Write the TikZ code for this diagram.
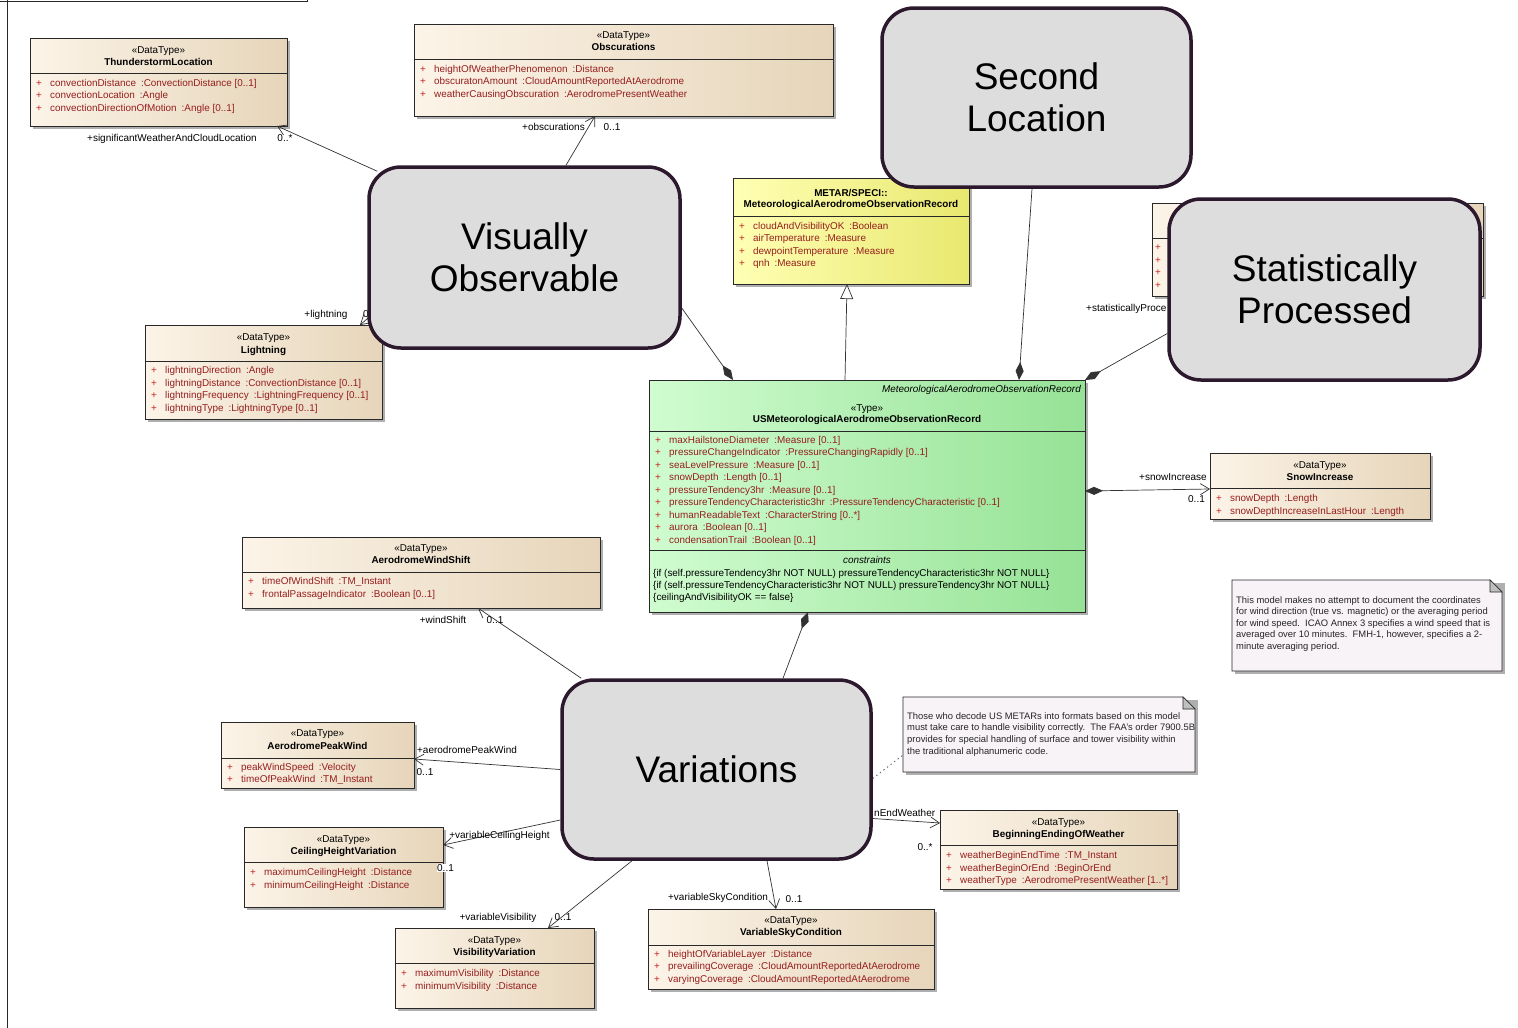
\documentclass[tikz,border=0pt]{standalone}
\usepackage{fontspec}
\setmainfont{Liberation Sans}
\usetikzlibrary{arrows.meta,calc}
\pgfdeclarelayer{fg}
\pgfsetlayers{main,fg}
\definecolor{dtL}{RGB}{252,244,232}
\definecolor{dtR}{RGB}{230,213,186}
\definecolor{grL}{RGB}{208,252,208}
\definecolor{grR}{RGB}{150,226,150}
\definecolor{yeL}{RGB}{255,255,180}
\definecolor{yeR}{RGB}{232,232,112}
\definecolor{boxline}{RGB}{40,40,40}
\definecolor{shadowc}{RGB}{175,175,175}
\definecolor{attrc}{RGB}{150,30,30}
\definecolor{plusc}{RGB}{200,35,35}
\definecolor{connc}{RGB}{50,50,50}
\definecolor{callfill}{RGB}{221,221,221}
\definecolor{calldraw}{RGB}{45,25,45}
\definecolor{notefill}{RGB}{247,243,247}
\newcommand\hdrfont{\fontsize{9.9}{11}\selectfont}
\newcommand\attrfont{\fontsize{9.9}{11}\selectfont}
\newcommand\rolefont{\fontsize{10}{11}\selectfont}
\newcommand\notefont{\fontsize{9.4}{11}\selectfont}
\newcommand\callfont{\fontsize{37}{42}\selectfont}
\newcommand\tsep{\hspace{5pt}:}
\tikzset{
  box/.style={draw=boxline, line width=0.8pt, inner sep=0pt, outer sep=0pt, rectangle},
  dtfill/.style={left color=dtL, right color=dtR},
  greenfill/.style={left color=grL, right color=grR},
  yelfill/.style={left color=yeL, right color=yeR},
  sepline/.style={draw=boxline, line width=0.8pt},
  hdr/.style={anchor=base, inner sep=0pt, font=\hdrfont},
  attr/.style={anchor=base west, inner sep=0pt, font=\attrfont, text=attrc},
  role/.style={anchor=base, inner sep=0pt, font=\rolefont, text=black},
  conn/.style={draw=connc, line width=0.7pt},
  callout/.style={rectangle, rounded corners=32pt, fill=callfill, draw=calldraw, line width=3.5pt, font=\callfont, align=center, inner sep=0pt},
  notebox/.style={inner sep=0pt, outer sep=0pt, rectangle},
  notetxt/.style={anchor=base west, inner sep=0pt, font=\notefont, text=black!85}
}
\newcommand\umlclass[7]{%
  \fill[shadowc] ({#2+3},{#3+3}) rectangle ({#4+3},{#5+3});
  \node[box,#6,minimum width={(#4-#2)*1pt},minimum height={(#5-#3)*1pt}] (#1) at ({(#2+#4)/2},{(#3+#5)/2}) {};
  \draw[sepline] (#2,#7) -- (#4,#7);
}
\newcommand\umlhead[6]{%
  \node[hdr] (#1st) at (#2,{#3+3.5}) {#5};
  \node[hdr,font=\hdrfont\bfseries] (#1nm) at (#2,{#4+3.5}) {#6};
}
\newcommand\umlattrs[5]{%
  \foreach \attrtext [count=\i from 0] in {#5}{%
    \node[attr] (#1\i) at (#2,{#3+\i*#4}) {\makebox[14pt][l]{\textcolor{plusc}{+}}\attrtext};
  }%
}
\newcommand\umlnote[5]{% name, x1, y1, x2, y2
  \fill[shadowc] ({#2+3},{#3+3}) rectangle ({#4+3},{#5+3});
  \node[notebox,minimum width={(#4-#2)*1pt},minimum height={(#5-#3)*1pt}] (#1) at ({(#2+#4)/2},{(#3+#5)/2}) {};
  \filldraw[fill=notefill, draw=boxline, line width=0.8pt] (#1.north west) -- ([xshift=-12pt]#1.north east) -- ([yshift=-12pt]#1.north east) -- (#1.south east) -- (#1.south west) -- cycle;
  \filldraw[fill=black!25, draw=boxline, line width=0.6pt] ([xshift=-12pt]#1.north east) -- ([xshift=-12pt,yshift=-12pt]#1.north east) -- ([yshift=-12pt]#1.north east) -- cycle;
}
\begin{document}
\begin{tikzpicture}[x=1pt,y=-1pt]
\useasboundingbox (0,0) rectangle (1518,1028);
\fill[white] (0,0) rectangle (1518,1028);
% frame remnants
\draw[boxline, line width=0.8pt] (7,-5) -- (7,1030);
\draw[boxline, line width=0.8pt] (0,1) -- (307,1) -- (307,-5);

% ---------------- classes ----------------
\umlclass{thun}{30}{38}{287}{126}{dtfill}{73}
\umlhead{thun}{158.5}{50}{62}{«DataType»}{ThunderstormLocation}
\umlattrs{thuna}{36}{86.5}{12.4}{%
convectionDistance\tsep ConvectionDistance [0..1],%
convectionLocation\tsep Angle,%
convectionDirectionOfMotion\tsep Angle [0..1]}

\umlclass{obsc}{414}{24}{833}{116}{dtfill}{59}
\umlhead{obsc}{623.5}{35}{47}{«DataType»}{Obscurations}
\umlattrs{obsca}{420}{72.5}{12.4}{%
heightOfWeatherPhenomenon\tsep Distance,%
obscuratonAmount\tsep CloudAmountReportedAtAerodrome,%
weatherCausingObscuration\tsep AerodromePresentWeather}

\umlclass{metar}{733}{178}{969}{284}{yelfill}{216}
\node[hdr,font=\hdrfont\bfseries] (metarst) at (851,196.5) {METAR/SPECI::};
\node[hdr,font=\hdrfont\bfseries] (metarnm) at (851,207.5) {MeteorologicalAerodromeObservationRecord};
\umlattrs{metara}{739}{229.5}{12.3}{%
cloudAndVisibilityOK\tsep Boolean,%
airTemperature\tsep Measure,%
dewpointTemperature\tsep Measure,%
qnh\tsep Measure}

\umlclass{hidbox}{1152}{203}{1483}{296}{dtfill}{238}
\umlattrs{hidboxa}{1155}{250.5}{12.7}{\relax,\relax,\relax,\relax}

\umlclass{light}{145}{325}{382}{419}{dtfill}{361}
\umlhead{light}{263.5}{337}{350}{«DataType»}{Lightning}
\umlattrs{lighta}{151}{373.5}{12.5}{%
lightningDirection\tsep Angle,%
lightningDistance\tsep ConvectionDistance [0..1],%
lightningFrequency\tsep LightningFrequency [0..1],%
lightningType\tsep LightningType [0..1]}

\umlclass{usrec}{649}{380}{1085}{612}{greenfill}{431}
\draw[sepline] (649,550) -- (1085,550);
\node[anchor=base east, inner sep=0pt, font=\hdrfont\itshape] (usrecab) at (1081,392.5) {MeteorologicalAerodromeObservationRecord};
\umlhead{usrec}{867}{408}{419}{«Type»}{USMeteorologicalAerodromeObservationRecord}
\umlattrs{usreca}{655}{443.5}{12.45}{%
maxHailstoneDiameter\tsep Measure [0..1],%
pressureChangeIndicator\tsep PressureChangingRapidly [0..1],%
seaLevelPressure\tsep Measure [0..1],%
snowDepth\tsep Length [0..1],%
pressureTendency3hr\tsep Measure [0..1],%
pressureTendencyCharacteristic3hr\tsep PressureTendencyCharacteristic [0..1],%
humanReadableText\tsep CharacterString [0..*],%
aurora\tsep Boolean [0..1],%
condensationTrail\tsep Boolean [0..1]}
\node[hdr,font=\hdrfont\itshape] (usrecct) at (867,563.5) {constraints};
\node[anchor=base west, inner sep=0pt, font=\attrfont] (usrecc0) at (653,576.5) {\{if (self.pressureTendency3hr NOT NULL) pressureTendencyCharacteristic3hr NOT NULL\}};
\node[anchor=base west, inner sep=0pt, font=\attrfont] (usrecc1) at (653,588.5) {\{if (self.pressureTendencyCharacteristic3hr NOT NULL) pressureTendency3hr NOT NULL\}};
\node[anchor=base west, inner sep=0pt, font=\attrfont] (usrecc2) at (653,600.5) {\{ceilingAndVisibilityOK == false\}};

\umlclass{snow}{1210}{453}{1430}{519}{dtfill}{488}
\umlhead{snow}{1320}{465}{477}{«DataType»}{SnowIncrease}
\umlattrs{snowa}{1216}{501.5}{12.6}{%
snowDepth\tsep Length,%
snowDepthIncreaseInLastHour\tsep Length}

\umlclass{wshift}{242}{537}{600}{608}{dtfill}{572}
\umlhead{wshift}{421}{548}{560}{«DataType»}{AerodromeWindShift}
\umlattrs{wshifta}{248}{584.5}{12.7}{%
timeOfWindShift\tsep TM\_Instant,%
frontalPassageIndicator\tsep Boolean [0..1]}

\umlclass{peak}{221}{722}{414}{788}{dtfill}{758}
\umlhead{peak}{317.5}{733}{746}{«DataType»}{AerodromePeakWind}
\umlattrs{peaka}{227}{770.5}{12.3}{%
peakWindSpeed\tsep Velocity,%
timeOfPeakWind\tsep TM\_Instant}

\umlclass{ceil}{244}{827}{443}{907}{dtfill}{862}
\umlhead{ceil}{343.5}{839}{851}{«DataType»}{CeilingHeightVariation}
\umlattrs{ceila}{250}{875.5}{12.5}{%
maximumCeilingHeight\tsep Distance,%
minimumCeilingHeight\tsep Distance}

\umlclass{visv}{395}{928}{594}{1008}{dtfill}{963}
\umlhead{visv}{494.5}{940}{952}{«DataType»}{VisibilityVariation}
\umlattrs{visva}{401}{976.5}{12.5}{%
maximumVisibility\tsep Distance,%
minimumVisibility\tsep Distance}

\umlclass{sky}{648}{909}{934}{989}{dtfill}{945}
\umlhead{sky}{791}{920}{932}{«DataType»}{VariableSkyCondition}
\umlattrs{skya}{654}{957.5}{12.4}{%
heightOfVariableLayer\tsep Distance,%
prevailingCoverage\tsep CloudAmountReportedAtAerodrome,%
varyingCoverage\tsep CloudAmountReportedAtAerodrome}

\umlclass{bew}{940}{810}{1177}{889}{dtfill}{845}
\umlhead{bew}{1058.5}{822}{834}{«DataType»}{BeginningEndingOfWeather}
\umlattrs{bewa}{946}{858.5}{12.5}{%
weatherBeginEndTime\tsep TM\_Instant,%
weatherBeginOrEnd\tsep BeginOrEnd,%
weatherType\tsep AerodromePresentWeather [1..*]}

% ---------------- notes ----------------
\umlnote{note1}{1232}{580}{1502}{671}
\foreach \ln [count=\i from 0] in {%
{This model makes no attempt to document the coordinates},%
{for wind direction (true vs. magnetic) or the averaging period},%
{for wind speed.\ \ ICAO Annex 3 specifies a wind speed that is},%
{averaged over 10 minutes.\ \ FMH-1, however, specifies a 2-},%
{minute averaging period.}}{%
  \node[notetxt] (note1t\i) at (1236,{603+\i*11.5}) {\ln};
}
\umlnote{note2}{903}{697}{1195}{772}
\foreach \ln [count=\i from 0] in {%
{Those who decode US METARs into formats based on this model},%
{must take care to handle visibility correctly.\ \ The FAA's order 7900.5B},%
{provides for special handling of surface and tower visibility within},%
{the traditional alphanumeric code.}}{%
  \node[notetxt] (note2t\i) at (907,{719+\i*11.8}) {\ln};
}

% ---------------- callouts (foreground) ----------------
\begin{pgfonlayer}{fg}
\node[callout, minimum width=311pt, minimum height=181pt] (vis) at (524.5,257.5) {Visually\\Observable};
\node[callout, minimum width=309pt, minimum height=179pt] (sec) at (1036.5,97.5) {Second\\Location};
\node[callout, minimum width=311pt, minimum height=181pt] (stat) at (1324.5,289.5) {Statistically\\Processed};
\node[callout, minimum width=309pt, minimum height=179pt] (var) at (716.5,769.5) {Variations};
\end{pgfonlayer}

% ---------------- connectors ----------------
\draw[conn, -{Straight Barb[length=9pt,width=11pt]}] ([xshift=10pt,yshift=-6pt]vis.north west) -- ([xshift=-10pt]thun.south east);
\node[role] (l1a) at (172,141.5) {+significantWeatherAndCloudLocation};
\node[role] (l1b) at (285,141.5) {0..*};

\draw[conn, -{Straight Barb[length=9pt,width=11pt]}] ([xshift=41.5pt]vis.north) -- ([xshift=-28.5pt]obsc.south);
\node[role] (l2a) at (553.5,130.5) {+obscurations};
\node[role] (l2b) at (612,130.5) {0..1};

\draw[conn, -{Straight Barb[length=9pt,width=11pt]}] ([xshift=6pt,yshift=-56pt]vis.west) -- ([xshift=-22pt]light.north east);
\node[role] (l3a) at (326,317) {+lightning};
\node[role, anchor=base west] (l3b) at (363,317) {0..1};

\draw[conn, {Diamond[length=18pt,width=8pt]}-] ([xshift=84pt]usrec.north west) -- ([yshift=-50.5pt]vis.east);
\draw[conn, -{Triangle[open,length=15pt,width=13pt,fill=white]}] ([xshift=-22pt]usrec.north) -- ([xshift=-4pt]metar.south);
\draw[conn, {Diamond[length=18pt,width=8pt]}-] ([xshift=152pt]usrec.north) -- ([xshift=-4.5pt]sec.south);
\draw[conn, {Diamond[length=18pt,width=8pt]}-] (usrec.north east) -- ([yshift=-44pt]stat.west);
\node[role, anchor=base west] (l4a) at (1086,311.5) {+statisticallyProce};

\draw[conn, {Diamond[length=18pt,width=8pt]}-{Straight Barb[length=9pt,width=11pt]}] ([yshift=5pt]usrec.east) -- ([yshift=-3pt]snow.west);
\node[role] (l5a) at (1173,480.5) {+snowIncrease};
\node[role] (l5b) at (1196.5,502.5) {0..1};

\draw[conn, {Diamond[length=18pt,width=8pt]}-] ([xshift=-59pt]usrec.south) -- ([xshift=66.5pt]var.north);

\draw[conn, -{Straight Barb[length=9pt,width=11pt]}] ([xshift=21pt]var.north west) -- ([xshift=57pt]wshift.south);
\node[role] (l6a) at (443,623.5) {+windShift};
\node[role] (l6b) at (495,623.5) {0..1};

\draw[conn, -{Straight Barb[length=9pt,width=11pt]}] (var.west) -- ([yshift=-4pt]peak.east);
\node[role] (l7a) at (467,753) {+aerodromePeakWind};
\node[role] (l7b) at (425,775) {0..1};

\draw[conn, -{Straight Barb[length=9pt,width=11pt]}] ([yshift=-50.5pt]var.west) -- ([yshift=22pt]ceil.east);
\node[role] (l8a) at (499.5,838.5) {+variableCeilingHeight};
\node[role, fill=white, inner sep=0.5pt] (l8b) at (445.5,871.5) {0..1};

\draw[conn, -{Straight Barb[length=9pt,width=11pt]}] ([xshift=-84.5pt]var.south) -- ([xshift=53.5pt]visv.north);
\node[role] (l9a) at (498,920.5) {+variableVisibility};
\node[role] (l9b) at (563,920.5) {0..1};

\draw[conn, -{Straight Barb[length=9pt,width=11pt]}] ([xshift=50.5pt]var.south) -- ([xshift=-15pt]sky.north);
\node[role] (l10a) at (718,900.5) {+variableSkyCondition};
\node[role] (l10b) at (794,902.5) {0..1};

\draw[conn, -{Straight Barb[length=9pt,width=11pt]}] ([yshift=-49pt]var.east) -- ([yshift=26.5pt]bew.west);
\node[role, anchor=base west] (l11a) at (874,816.5) {nEndWeather};
\node[role] (l11b) at (925,850.5) {0..*};

\draw[draw=black!55, line width=0.9pt, dash pattern=on 1.5pt off 3pt] ([yshift=-9pt]var.east) -- ([yshift=-20.5pt]note2.west);
\end{tikzpicture}
\end{document}
